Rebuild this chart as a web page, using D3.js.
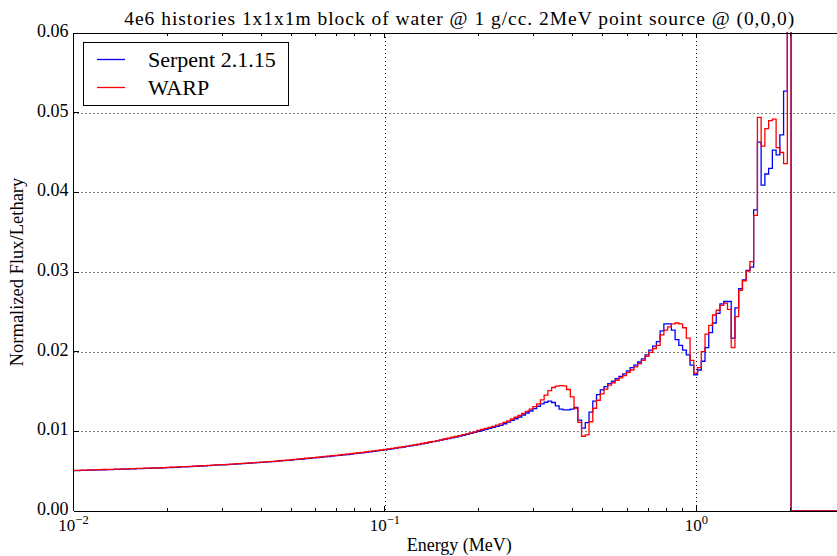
<!DOCTYPE html>
<html>
    <head>
        <script src="https://d3js.org/d3.v7.min.js"></script>
        <style>
            body { margin: 0; background: #fff; }
            text { font-family: "Liberation Serif", "Times New Roman", serif; fill: #000; }
        </style>
    </head>
    <body>
        <svg width="837" height="556"></svg>

        <script>
            // tally grid: 1024 log bins from 1e-11 to 20 MeV, only the bins from 0.01 MeV up are shown
            const nBins = 1024;
            const eLow = 1e-11;
            const eHigh = 20;
            const firstBin = 749;

            // Serpent 2.1.15, flux per lethargy, one value per bin (low energy -> high)
            const serpent = [
                0.00506,0.00507,0.00509,0.0051,0.00512,0.00513,0.00515,0.00516,0.00518,0.00519,
                0.0052,0.00522,0.00523,0.00525,0.00526,0.00528,0.00529,0.00531,0.00532,0.00534,
                0.00535,0.00537,0.00538,0.0054,0.00542,0.00544,0.00546,0.00548,0.0055,0.00553,
                0.00555,0.00557,0.0056,0.00562,0.00565,0.00567,0.0057,0.00572,0.00575,0.00578,
                0.0058,0.00583,0.00586,0.00589,0.00592,0.00595,0.00598,0.00601,0.00604,0.00607,
                0.0061,0.00614,0.00617,0.00621,0.00624,0.00628,0.00632,0.00636,0.0064,0.00644,
                0.00648,0.00652,0.00657,0.00661,0.00666,0.0067,0.00675,0.0068,0.00684,0.00689,
                0.00694,0.00699,0.00704,0.00709,0.00715,0.0072,0.00726,0.00731,0.00737,0.00743,
                0.00749,0.00755,0.00761,0.00767,0.00774,0.00781,0.00788,0.00795,0.00802,0.0081,
                0.00818,0.00826,0.00834,0.00843,0.00852,0.00861,0.0087,0.00879,0.00889,0.00899,
                0.00909,0.00919,0.00929,0.0094,0.00951,0.00962,0.00974,0.00986,
                0.01,0.01012,0.01025,0.01037,0.01049,0.01062,0.01074,0.01095,0.01116,0.01137,
                0.01158,0.0118,0.01205,0.0123,0.01255,0.01285,0.01315,0.01345,0.01365,0.0138,
                0.01362,0.0132,0.0128,0.0127,0.0127,0.0128,0.013,
                0.0114,0.0104,0.0111,0.0124,0.0138,0.0146,0.0152,0.0156,
                0.016,0.0163,0.0166,0.0169,0.0172,0.0176,0.018,0.0183,0.0187,0.0191,0.0196,0.0202,0.0207,0.02125,
                0.0226,0.0235,0.0235,0.0227,0.0215,0.0208,0.0202,0.0196,0.0183,
                0.0171,0.0177,0.0188,0.0205,0.0224,0.0236,0.0248,0.026,0.0263,0.0263,
                0.0217,0.0255,0.0279,0.029,0.0302,0.0306,
                0.0378,0.0463,0.0409,0.0423,0.043,0.0453,0.0447,0.0472,0.0527,
                0.5
            ];

            // WARP
            const warp = [
                0.00509,0.0051,0.00512,0.00513,0.00515,0.00516,0.00518,0.00519,0.00521,0.00522,
                0.00523,0.00525,0.00526,0.00528,0.00529,0.00531,0.00532,0.00534,0.00535,0.00537,
                0.00538,0.0054,0.00541,0.00543,0.00545,0.00547,0.00549,0.00551,0.00553,0.00556,
                0.00558,0.0056,0.00563,0.00565,0.00568,0.0057,0.00573,0.00575,0.00578,0.00581,
                0.00583,0.00586,0.00589,0.00592,0.00595,0.00598,0.00601,0.00604,0.00607,0.0061,
                0.00613,0.00617,0.0062,0.00624,0.00627,0.00631,0.00635,0.00639,0.00643,0.00647,
                0.00653,0.00657,0.00662,0.00666,0.00671,0.00675,0.0068,0.00685,0.00689,0.00694,
                0.00699,0.00704,0.00709,0.00714,0.0072,0.00725,0.00731,0.00736,0.00742,0.00748,
                0.00754,0.0076,0.00766,0.00772,0.00779,0.00786,0.00793,0.008,0.00807,0.00815,
                0.00823,0.00831,0.00839,0.00848,0.00857,0.00866,0.00875,0.00884,0.00894,0.00904,
                0.00916,0.00926,0.00936,0.00947,0.00958,0.00969,0.00981,0.00993,
                0.01012,0.01024,0.01036,0.01049,0.01063,0.01078,0.01093,0.01112,0.01132,0.01155,
                0.01177,0.012,0.01225,0.0125,0.0128,0.0131,0.01345,0.01395,0.01455,0.0151,
                0.0155,0.01568,0.01575,0.0157,0.01525,0.01432,0.0129,
                0.01112,0.00938,0.00955,0.0112,0.0129,0.0139,0.0147,0.0153,
                0.0158,0.0161,0.0164,0.0167,0.017,0.0174,0.0177,0.0181,0.0185,0.0189,0.0194,0.0199,0.0204,0.0208,
                0.0221,0.0227,0.0231,0.0235,0.0236,0.0235,0.023,0.0217,0.0189,
                0.0173,0.018,0.02,0.0222,0.0233,0.0246,0.0252,0.0258,0.0261,0.0253,
                0.0205,0.0244,0.0277,0.0289,0.0301,0.0313,
                0.0371,0.0494,0.0458,0.048,0.049,0.0492,0.0456,0.045,0.0436,
                0.5
            ];

            const yTicks = [0, 0.01, 0.02, 0.03, 0.04, 0.05, 0.06];
            const yTickLabels = ["0.00", "0.01", "0.02", "0.03", "0.04", "0.05", "0.06"];
            const xDecades = [0.01, 0.1, 1];
            const xDecadeExp = ["\u22122", "\u22121", "0"];

            const series = [
                { name: "Serpent 2.1.15", values: serpent, color: "#0000ff" },
                { name: "WARP", values: warp, color: "#ff0000" }
            ];

            const svg = d3.select("svg");
            const pLeft = 73.5, pRight = 845, pTop = 33, pBottom = 511;

            const x = d3.scaleLog().domain([0.01, 3]).range([pLeft, pRight]);
            const y = d3.scaleLinear().domain([0, 0.06]).range([pBottom, pTop]);

            // bin edge n of the tally grid
            const edge = n => eLow * Math.pow(eHigh / eLow, n / nBins);

            svg.append("defs").append("clipPath").attr("id", "plot")
                .append("rect")
                .attr("x", pLeft).attr("y", pTop - 1)
                .attr("width", pRight - pLeft).attr("height", pBottom - pTop + 2);

            // dotted grid
            const grid = svg.append("g")
                .attr("stroke", "#000")
                .attr("stroke-width", 1)
                .attr("stroke-dasharray", "1,3");
            grid.selectAll(".gy").data(yTicks.slice(1, -1)).join("line")
                .attr("x1", pLeft).attr("x2", pRight)
                .attr("y1", d => Math.round(y(d)) + 0.5).attr("y2", d => Math.round(y(d)) + 0.5);
            grid.selectAll(".gx").data(xDecades.slice(1)).join("line")
                .attr("x1", d => Math.round(x(d)) + 0.5).attr("x2", d => Math.round(x(d)) + 0.5)
                .attr("y1", pTop).attr("y2", pBottom);

            // histogram steps
            const line = d3.line()
                .x(d => x(d[0]))
                .y(d => y(d[1]))
                .curve(d3.curveStepAfter);

            svg.append("g").attr("clip-path", "url(#plot)")
                .selectAll("path").data(series).join("path")
                .attr("fill", "none")
                .attr("stroke", d => d.color)
                .attr("stroke-width", 1.3)
                .attr("d", d => {
                    const pts = d.values.map((v, i) => [edge(firstBin + i), v]);
                    // bins above the source energy are empty
                    pts.push([edge(firstBin + d.values.length), 0]);
                    pts.push([eHigh, 0]);
                    return line(pts);
                });

            // frame
            const frame = svg.append("g").attr("stroke", "#000").attr("stroke-width", 1)
                .attr("shape-rendering", "crispEdges");
            frame.append("line").attr("x1", pLeft).attr("x2", pLeft).attr("y1", pTop).attr("y2", pBottom);
            frame.append("line").attr("x1", pLeft).attr("x2", pRight).attr("y1", pBottom).attr("y2", pBottom);
            frame.append("line").attr("x1", pLeft).attr("x2", pRight).attr("y1", pTop).attr("y2", pTop);

            // y ticks (inside) and labels
            frame.selectAll(".yt").data(yTicks).join("line")
                .attr("x1", pLeft).attr("x2", pLeft + 5)
                .attr("y1", d => y(d)).attr("y2", d => y(d));
            svg.append("g").selectAll("text").data(yTicks).join("text")
                .attr("x", pLeft - 5)
                .attr("y", d => y(d) + 4)
                .attr("text-anchor", "end")
                .style("font-size", "18px")
                .text((d, i) => yTickLabels[i]);

            // x ticks: decades and minor ticks, bottom and top, pointing inward
            const minor = [];
            xDecades.forEach(dec => { for (let k = 2; k <= 9; k++) minor.push(dec * k); });
            const xMinor = minor.filter(v => v <= 3);
            frame.selectAll(".xb").data(xDecades).join("line")
                .attr("x1", d => x(d)).attr("x2", d => x(d))
                .attr("y1", pBottom).attr("y2", pBottom - 5);
            frame.selectAll(".xt").data(xDecades).join("line")
                .attr("x1", d => x(d)).attr("x2", d => x(d))
                .attr("y1", pTop).attr("y2", pTop + 5);
            frame.selectAll(".xmb").data(xMinor).join("line")
                .attr("x1", d => x(d)).attr("x2", d => x(d))
                .attr("y1", pBottom).attr("y2", pBottom - 3);
            frame.selectAll(".xmt").data(xMinor).join("line")
                .attr("x1", d => x(d)).attr("x2", d => x(d))
                .attr("y1", pTop).attr("y2", pTop + 3);

            const xl = svg.append("g").selectAll("text").data(xDecades).join("text")
                .attr("x", d => x(d))
                .attr("y", 531)
                .attr("text-anchor", "middle")
                .style("font-size", "17px");
            xl.append("tspan").text("10");
            xl.append("tspan").attr("dy", -7).style("font-size", "12.5px").text((d, i) => xDecadeExp[i]);

            // titles
            svg.append("text")
                .attr("x", (pLeft + pRight) / 2).attr("y", 25)
                .attr("text-anchor", "middle")
                .attr("textLength", 670)
                .attr("lengthAdjust", "spacing")
                .style("font-size", "19.5px")
                .text("4e6 histories 1x1x1m block of water @ 1 g/cc. 2MeV point source @ (0,0,0)");
            svg.append("text")
                .attr("x", (pLeft + pRight) / 2).attr("y", 551)
                .attr("text-anchor", "middle")
                .style("font-size", "18px")
                .text("Energy (MeV)");
            svg.append("text")
                .attr("transform", `translate(23,${(pTop + pBottom) / 2}) rotate(-90)`)
                .attr("text-anchor", "middle")
                .style("font-size", "18.5px")
                .text("Normalized Flux/Lethary");

            // legend
            const lg = svg.append("g").attr("transform", "translate(83,42)");
            lg.append("rect")
                .attr("x", 0.5).attr("y", 0.5)
                .attr("width", 205).attr("height", 63)
                .attr("fill", "#fff").attr("stroke", "#000");
            const item = lg.selectAll("g").data(series).join("g")
                .attr("transform", (d, i) => `translate(0,${17.5 + i * 28})`);
            item.append("line")
                .attr("x1", 14).attr("x2", 42)
                .attr("stroke", d => d.color).attr("stroke-width", 1.3);
            item.append("text")
                .attr("x", 65).attr("y", 7.5)
                .style("font-size", "22px")
                .text(d => d.name);
        </script>
    </body>
</html>
